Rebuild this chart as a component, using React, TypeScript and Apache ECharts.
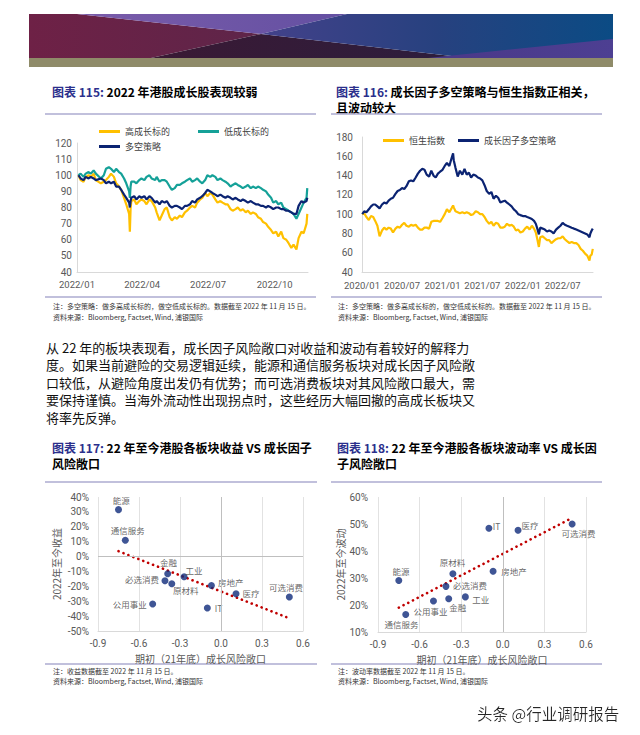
import React, { useEffect, useRef } from 'react';
import * as echarts from 'echarts';

// ---------- Chart 115 data ----------
const dates115 = [
  '2022-01-03','2022-01-06','2022-01-10','2022-01-13','2022-01-17','2022-01-20','2022-01-24','2022-01-27',
  '2022-02-03','2022-02-07','2022-02-10','2022-02-14','2022-02-17','2022-02-21','2022-02-24','2022-02-28',
  '2022-03-03','2022-03-07','2022-03-10','2022-03-14','2022-03-15','2022-03-16','2022-03-17','2022-03-21','2022-03-24','2022-03-28','2022-03-31',
  '2022-04-04','2022-04-07','2022-04-11','2022-04-14','2022-04-19','2022-04-21','2022-04-25','2022-04-28',
  '2022-05-02','2022-05-05','2022-05-09','2022-05-12','2022-05-16','2022-05-19','2022-05-23','2022-05-26','2022-05-30',
  '2022-06-02','2022-06-06','2022-06-09','2022-06-13','2022-06-16','2022-06-20','2022-06-23','2022-06-27','2022-06-30',
  '2022-07-04','2022-07-07','2022-07-11','2022-07-14','2022-07-18','2022-07-21','2022-07-25','2022-07-28',
  '2022-08-01','2022-08-04','2022-08-08','2022-08-11','2022-08-15','2022-08-18','2022-08-22','2022-08-25','2022-08-29',
  '2022-09-01','2022-09-05','2022-09-08','2022-09-12','2022-09-15','2022-09-19','2022-09-22','2022-09-26','2022-09-29',
  '2022-10-03','2022-10-06','2022-10-10','2022-10-13','2022-10-17','2022-10-20','2022-10-24','2022-10-27','2022-10-31',
  '2022-11-03','2022-11-07','2022-11-10','2022-11-14','2022-11-15'
];
const highGrowth = [
  100, 97, 96, 99, 100, 99, 101, 97,
  95, 96, 97, 99, 101, 99, 95, 93,
  91, 86, 82, 76, 65, 79, 84, 85, 82, 84, 85,
  84, 82, 85, 84, 80, 77, 72, 75,
  79, 80, 74, 72, 74, 73, 75, 74, 77,
  78, 80, 81, 80, 83, 85, 86, 89, 87,
  89, 88, 85, 83, 84, 83, 82, 82,
  79, 78, 79, 80, 78, 79, 77, 78, 76,
  77, 76, 74, 73, 71, 70, 68, 66, 64,
  65, 62, 65, 61, 60, 58, 55, 57, 54,
  61, 65, 64, 70, 76
];
const lowGrowth = [
  100, 101, 99, 101, 102, 101, 103, 101,
  98, 100, 104, 105, 104, 102, 104, 102,
  101, 98, 95, 90, 86, 93, 96, 96, 95, 97, 98,
  97, 99, 100, 98, 97, 99, 96, 97,
  97, 96, 93, 91, 92, 94, 94, 95, 96,
  97, 98, 96, 97, 98, 96, 95, 97, 100,
  99, 100, 99, 97, 98, 97, 96, 95,
  93, 94, 95, 94, 93, 92, 93, 94, 92,
  93, 92, 93, 92, 91, 90, 88, 86, 83,
  84, 82, 83, 80, 79, 78, 77, 76, 73,
  76, 80, 83, 86, 92
];
const longShort = [
  100, 98, 97, 99, 98, 99, 98, 97,
  98, 97, 95, 96, 95, 96, 93, 93,
  91, 88, 86, 83, 80, 84, 86, 87, 85, 87, 86,
  87, 85, 87, 86, 83, 84, 82, 84,
  83, 84, 81, 80, 81, 81, 80, 79, 81,
  81, 82, 84, 83, 85, 86, 87, 89, 91,
  90, 89, 88, 87, 88, 87, 86, 87,
  86, 85, 86, 85, 84, 85, 84, 83, 84,
  83, 82, 82, 81, 81, 80, 81, 80, 79,
  80, 80, 79, 79, 78, 78, 77, 76, 76,
  81, 84, 83, 84, 86
];
const ticks115 = ['2022-01-01', '2022-04-01', '2022-07-01', '2022-10-01'];

// ---------- Chart 116 data ----------
const dates116 = [
  '2020-01-02','2020-01-11','2020-01-21','2020-02-01','2020-02-11','2020-02-21','2020-03-01','2020-03-11','2020-03-21',
  '2020-04-01','2020-04-11','2020-04-21','2020-05-01','2020-05-11','2020-05-21','2020-06-01','2020-06-11','2020-06-21',
  '2020-07-01','2020-07-11','2020-07-21','2020-08-01','2020-08-11','2020-08-21','2020-09-01','2020-09-11','2020-09-21',
  '2020-10-01','2020-10-11','2020-10-21','2020-11-01','2020-11-11','2020-11-21','2020-12-01','2020-12-11','2020-12-21',
  '2021-01-01','2021-01-11','2021-01-21','2021-02-01','2021-02-11','2021-02-18','2021-02-21','2021-03-01','2021-03-11','2021-03-21',
  '2021-04-01','2021-04-11','2021-04-21','2021-05-01','2021-05-11','2021-05-21','2021-06-01','2021-06-11','2021-06-21',
  '2021-07-01','2021-07-11','2021-07-21','2021-08-01','2021-08-11','2021-08-21','2021-09-01','2021-09-11','2021-09-21',
  '2021-10-01','2021-10-11','2021-10-21','2021-11-01','2021-11-11','2021-11-21','2021-12-01','2021-12-11','2021-12-21',
  '2022-01-01','2022-01-11','2022-01-21','2022-02-01','2022-02-11','2022-02-21','2022-03-01','2022-03-08','2022-03-15','2022-03-21',
  '2022-04-01','2022-04-11','2022-04-21','2022-05-01','2022-05-11','2022-05-21','2022-06-01','2022-06-11','2022-06-21',
  '2022-07-01','2022-07-11','2022-07-21','2022-08-01','2022-08-11','2022-08-21','2022-09-01','2022-09-11','2022-09-21',
  '2022-10-01','2022-10-11','2022-10-21','2022-10-31','2022-11-04','2022-11-10','2022-11-15'
];
const hsi = [
  100, 101, 97, 94, 98, 97, 93, 88, 77,
  83, 86, 84, 86, 85, 81, 85, 87, 86,
  89, 91, 88, 87, 89, 88, 89, 86, 84,
  84, 86, 86, 85, 92, 93, 93, 93, 92,
  96, 100, 105, 102, 106, 109, 107, 103, 102, 101,
  102, 101, 102, 101, 99, 100, 103, 102, 100,
  100, 97, 93, 90, 92, 88, 91, 90, 86,
  86, 87, 90, 88, 89, 87, 83, 84, 81,
  82, 85, 87, 84, 88, 85, 81, 74, 66, 76,
  77, 75, 73, 73, 70, 72, 74, 75, 75,
  77, 74, 72, 70, 71, 70, 70, 68, 64,
  62, 59, 57, 52, 57, 58, 64
];
const growthFactor = [
  100, 103, 102, 105, 108, 110, 110, 108, 106,
  110, 112, 111, 114, 116, 117, 121, 124, 125,
  127, 126, 129, 134, 135, 134, 138, 142, 145,
  147, 146, 141, 139, 145, 140, 138, 142, 144,
  146, 150, 153, 150, 158, 163, 156, 148, 139, 145,
  141, 147, 141, 143, 138, 141, 140, 138, 137,
  135, 130, 124, 121, 123, 116, 119, 117, 112,
  113, 114, 112, 110, 108, 105, 103, 100, 99,
  98, 98, 97, 96, 95, 93, 90, 85, 79, 86,
  85, 84, 82, 83, 82, 80, 84, 86, 88,
  91, 89, 88, 87, 86, 85, 84, 83, 82,
  81, 80, 79, 76, 80, 83, 85
];
const ticks116 = ['2020-01-01', '2020-07-01', '2021-01-01', '2021-07-01', '2022-01-01', '2022-07-01'];

// ---------- Chart 117 / 118 data ----------
const sectors = ['能源', '通信服务', '金融', '工业', '必选消费', '原材料', '房地产', '医疗', '可选消费', '公用事业', 'IT'];
const exposure = [-0.75, -0.70, -0.39, -0.27, -0.41, -0.36, -0.07, 0.11, 0.50, -0.50, -0.10];
const return22 = [31.5, 11, -11.5, -13.6, -16.3, -18.3, -19.4, -25, -27.2, -31.9, -34.6];
const vol22 = [29.1, 16.5, 22.3, 23.0, 26.9, 31.6, 32.5, 47.7, 50.0, 21.5, 48.4];
const trendRetX = [-0.75, 0.49];
const trendRetY = [3.6, -41.1];
const trendVolX = [-0.75, 0.475];
const trendVolY = [19.0, 51.6];

// label placement (style only)
const labelOffset117: Record<string, number[]> = {
  '能源': [2.7, -9.7], '通信服务': [2.3, -9.7], '金融': [0.7, -11.7], '工业': [10, -6.7],
  '必选消费': [-23, -2.3], '原材料': [14, 6.3], '房地产': [19.3, -3.7], '医疗': [15, -0.3],
  '可选消费': [-3.3, -10.3], '公用事业': [-23, 0], 'IT': [11.3, 0.3]
};
const labelOffset118: Record<string, number[]> = {
  'IT': [7.7, -2.3], '医疗': [12, -5], '可选消费': [6.3, 9], '能源': [2.3, -9.3],
  '原材料': [-0.3, -11.7], '房地产': [21, 0], '必选消费': [24, -1], '公用事业': [-3, 10],
  '金融': [9, 8.3], '工业': [15.3, 1.7], '通信服务': [-4.3, 10]
};

const ts = (s: string) => {
  const [y, m, d] = s.split('-').map(Number);
  return Date.UTC(y, m - 1, d);
};
const fmtMonth = (v: number) => {
  const d = new Date(v);
  return d.getUTCFullYear() + '/' + String(d.getUTCMonth() + 1).padStart(2, '0');
};

const CJK = '"Noto Sans CJK SC", sans-serif';
const NUM = 'Roboto, sans-serif';
const ORANGE = '#FFC000';
const TEAL = '#15A198';
const NAVY = '#0B2372';
const DOT = '#0F2B7A';
const SEP = '#ADABD0';
const LABEL = '#404040';

const axisLabelBase = { color: '#595959', fontSize: 9.5, fontFamily: NUM };

function App() {
  const ref = useRef<HTMLDivElement>(null);
  useEffect(() => {
    if (!ref.current) return;
    const chart = echarts.init(ref.current, null, { renderer: 'svg', width: 640, height: 735 });

    const lg = (name: string, left: number, top: number) => ({
      data: [name], left, top, padding: 0, itemWidth: 21, itemHeight: 3, icon: 'rect',
      selectedMode: false, textStyle: { fontSize: 9, color: LABEL, fontFamily: CJK }
    });

    const lineSeries = (name: string, idx: number, dates: string[], vals: number[], color: string) => ({
      name, type: 'line', xAxisIndex: idx, yAxisIndex: idx,
      data: dates.map((d, i) => [ts(d), vals[i]]),
      symbol: 'none', showSymbol: false,
      lineStyle: { color, width: 2.2 }, itemStyle: { color }
    });

    const scatterData = (ys: number[], offsets: Record<string, number[]>) =>
      sectors.map((s, i) => ({
        name: s, value: [exposure[i], ys[i]],
        label: { position: 'inside', offset: offsets[s], color: LABEL }
      }));

    const timeX = (grid: number, min: string, max: string, ticks: string[], margin: number) => ({
      gridIndex: grid, type: 'value', min: ts(min), max: ts(max),
      axisLine: { show: true, onZero: false, lineStyle: { color: '#D9D9D9' } },
      axisTick: { show: false }, splitLine: { show: false },
      axisLabel: { ...axisLabelBase, margin, customValues: ticks.map(ts), formatter: fmtMonth }
    });

    const scatterX = (grid: number) => ({
      gridIndex: grid, type: 'value', min: -0.9, max: 0.6, interval: 0.3,
      axisLine: { show: true, onZero: false, lineStyle: { color: '#D9D9D9' } },
      axisTick: { show: false },
      splitLine: { show: true, lineStyle: { color: '#E2E2E2' } },
      axisLabel: { ...axisLabelBase, fontSize: 10, margin: 7, formatter: (v: number) => (Math.abs(v) < 1e-9 ? 0 : v).toFixed(1) },
      name: '期初（21年底）成长风险敞口', nameLocation: 'middle', nameGap: 22,
      nameTextStyle: { color: '#595959', fontSize: 10, fontFamily: CJK }
    });

    const txt = (x: number, y: number, text: string, size: number, extra: any = {}) => ({
      type: 'text', x, y, silent: true,
      style: { text, fontSize: size, fontFamily: CJK, fill: '#000', verticalAlign: 'middle', align: 'left', ...extra }
    });
    const title = (x: number, y: number, a: string, b: string) => txt(x, y, `{a|${a}} {b|${b}}`, 12, {
      fontWeight: 'bold',
      rich: {
        a: { fill: '#2B2F8C', fontWeight: 'bold', fontSize: 12, fontFamily: CJK },
        b: { fill: '#000', fontWeight: 'bold', fontSize: 12, fontFamily: CJK }
      }
    });
    const sep = (x1: number, x2: number, y: number) => ({
      type: 'line', silent: true, shape: { x1, y1: y, x2, y2: y }, style: { stroke: SEP, lineWidth: 1.5 }
    });
    const grad = (stops: string[]) => new echarts.graphic.LinearGradient(0, 0, 1, 0,
      stops.map((c, i) => ({ offset: i / (stops.length - 1), color: c })));
    const poly = (points: number[][], fill: any) => ({ type: 'polygon', silent: true, shape: { points }, style: { fill } });

    const note1 = '注：多空策略：做多高成长标的，做空低成长标的。数据截至 2022 年 11 月 15 日。';
    const src = '资料来源：Bloomberg, Factset, Wind, 浦银国际';
    const para = [
      '从 22 年的板块表现看，成长因子风险敞口对收益和波动有着较好的解释力',
      '度。如果当前避险的交易逻辑延续，能源和通信服务板块对成长因子风险敞',
      '口较低，从避险角度出发仍有优势；而可选消费板块对其风险敞口最大，需',
      '要保持谨慎。当海外流动性出现拐点时，这些经历大幅回撤的高成长板块又',
      '将率先反弹。'
    ];

    const graphics: any[] = [
      // banner
      poly([[29, 14], [77, 14], [261, 34], [151, 58], [29, 58]], grad(['#6E2146', '#5E2549'])),
      poly([[77, 14], [347, 14], [261, 34]], grad(['#7A5CAA', '#6450A2'])),
      poly([[151, 58], [261, 34], [469, 58]], grad(['#3A1934', '#2C1E3D'])),
      poly([[347, 14], [613, 14], [613, 58], [469, 58], [261, 34]], grad(['#43418A', '#27417F', '#0B4B84'])),
      poly([[428, 58], [613, 39], [613, 58]], grad(['#4A3888', '#4D3F92'])),
      { type: 'rect', silent: true, shape: { x: 29, y: 58, width: 584, height: 9 }, style: { fill: '#8F8B69' } },
      // titles
      title(52, 91, '图表 115:', '2022 年港股成长股表现较弱'),
      title(336, 91, '图表 116:', '成长因子多空策略与恒生指数正相关，'),
      txt(336, 107, '且波动较大', 12, { fontWeight: 'bold' }),
      sep(45, 316, 114), sep(331, 602, 114),
      sep(45, 316, 297), sep(331, 602, 297),
      txt(53, 306, note1, 7, { fill: '#333' }), txt(53, 317, src, 7, { fill: '#333' }),
      txt(338, 306, note1, 7, { fill: '#333' }), txt(338, 317, src, 7, { fill: '#333' }),
      // paragraph
      ...para.map((l, i) => txt(46, 347 + i * 17.5, l, 13, { fill: '#111' })),
      // lower titles
      title(52, 447, '图表 117:', '22 年至今港股各板块收益 VS 成长因子'),
      txt(52, 463, '风险敞口', 12, { fontWeight: 'bold' }),
      title(337, 447, '图表 118:', '22 年至今港股各板块波动率 VS 成长因'),
      txt(337, 463, '子风险敞口', 12, { fontWeight: 'bold' }),
      sep(45, 317, 482), sep(331, 602, 482),
      sep(45, 317, 664), sep(331, 602, 664),
      txt(53, 671, '注：收益数据截至 2022 年 11 月 15 日。', 7, { fill: '#333' }),
      txt(53, 681, src, 7, { fill: '#333' }),
      txt(338, 671, '注：波动率数据截至 2022 年 11 月 15 日。', 7, { fill: '#333' }),
      txt(338, 681, src, 7, { fill: '#333' }),
      // watermark
      txt(477, 713, '头条 @行业调研报告', 15.5, {
        fill: '#262626', textShadowColor: 'rgba(255,255,255,0.9)', textShadowBlur: 2
      })
    ];

    const markZero = (both: boolean) => ({
      silent: true, symbol: ['none', 'none'], label: { show: false },
      lineStyle: { color: '#BFBFBF', width: 1, type: 'solid' },
      data: both ? [{ xAxis: 0 }, { yAxis: 0 }] : [{ xAxis: 0 }]
    });

    const trendStyle = { color: '#C00000', width: 2.6, type: [0.1, 5.2], cap: 'round' };

    const option: any = {
      animation: false,
      backgroundColor: '#ffffff',
      grid: [
        { left: 77, top: 143, width: 231, height: 129 },
        { left: 362, top: 137, width: 231, height: 135 },
        { left: 98, top: 497, width: 205, height: 134 },
        { left: 378, top: 497, width: 208, height: 135 }
      ],
      xAxis: [
        timeX(0, '2022-01-01', '2022-11-16', ticks115, 7),
        timeX(1, '2020-01-01', '2022-11-16', ticks116, 8),
        scatterX(2),
        scatterX(3)
      ],
      yAxis: [
        {
          gridIndex: 0, type: 'value', min: 40, max: 120, interval: 10,
          axisLine: { show: true, onZero: false, lineStyle: { color: '#D9D9D9' } },
          axisTick: { show: false }, splitLine: { show: false },
          axisLabel: { ...axisLabelBase, fontSize: 10, margin: 5 }
        },
        {
          gridIndex: 1, type: 'value', min: 40, max: 180, interval: 20,
          axisLine: { show: true, onZero: false, lineStyle: { color: '#D9D9D9' } },
          axisTick: { show: false }, splitLine: { show: false },
          axisLabel: { ...axisLabelBase, fontSize: 10, margin: 9 }
        },
        {
          gridIndex: 2, type: 'value', min: -50, max: 40, interval: 10,
          axisLine: { show: false, onZero: false }, axisTick: { show: false }, splitLine: { show: false },
          axisLabel: { ...axisLabelBase, fontSize: 10, margin: 9, formatter: '{value}%' },
          name: '2022年至今收益', nameLocation: 'middle', nameRotate: 90, nameGap: 37,
          nameTextStyle: { color: '#595959', fontSize: 10, fontFamily: CJK }
        },
        {
          gridIndex: 3, type: 'value', min: 10, max: 60, interval: 10,
          axisLine: { show: false, onZero: false }, axisTick: { show: false }, splitLine: { show: false },
          axisLabel: { ...axisLabelBase, fontSize: 10, margin: 10, formatter: '{value}%' },
          name: '2022年至今波动', nameLocation: 'middle', nameRotate: 90, nameGap: 33,
          nameTextStyle: { color: '#595959', fontSize: 10, fontFamily: CJK }
        }
      ],
      legend: [
        lg('高成长标的', 99, 127),
        lg('低成长标的', 198, 127),
        lg('多空策略', 99, 142),
        lg('恒生指数', 383, 136),
        lg('成长因子多空策略', 458, 136)
      ],
      series: [
        lineSeries('高成长标的', 0, dates115, highGrowth, ORANGE),
        lineSeries('低成长标的', 0, dates115, lowGrowth, TEAL),
        lineSeries('多空策略', 0, dates115, longShort, NAVY),
        lineSeries('恒生指数', 1, dates116, hsi, ORANGE),
        lineSeries('成长因子多空策略', 1, dates116, growthFactor, NAVY),
        {
          type: 'line', xAxisIndex: 2, yAxisIndex: 2, silent: true, symbol: 'none',
          data: trendRetX.map((x, i) => [x, trendRetY[i]]), lineStyle: trendStyle, z: 3
        },
        {
          type: 'scatter', xAxisIndex: 2, yAxisIndex: 2, symbolSize: 7, z: 4,
          itemStyle: { color: DOT },
          label: { show: true, formatter: '{b}', fontSize: 8.5, color: LABEL, fontFamily: CJK },
          data: scatterData(return22, labelOffset117),
          markLine: markZero(true)
        },
        {
          type: 'line', xAxisIndex: 3, yAxisIndex: 3, silent: true, symbol: 'none',
          data: trendVolX.map((x, i) => [x, trendVolY[i]]), lineStyle: trendStyle, z: 3
        },
        {
          type: 'scatter', xAxisIndex: 3, yAxisIndex: 3, symbolSize: 7, z: 4,
          itemStyle: { color: DOT },
          label: { show: true, formatter: '{b}', fontSize: 8.5, color: LABEL, fontFamily: CJK },
          data: scatterData(vol22, labelOffset118),
          markLine: markZero(false)
        }
      ],
      graphic: { elements: graphics }
    };

    chart.setOption(option);
    return () => chart.dispose();
  }, []);

  return (
    <div
      ref={ref}
      style={{ position: 'fixed', left: 0, top: 0, width: 640, height: 735, background: '#fff' }}
    />
  );
}

export default App;
